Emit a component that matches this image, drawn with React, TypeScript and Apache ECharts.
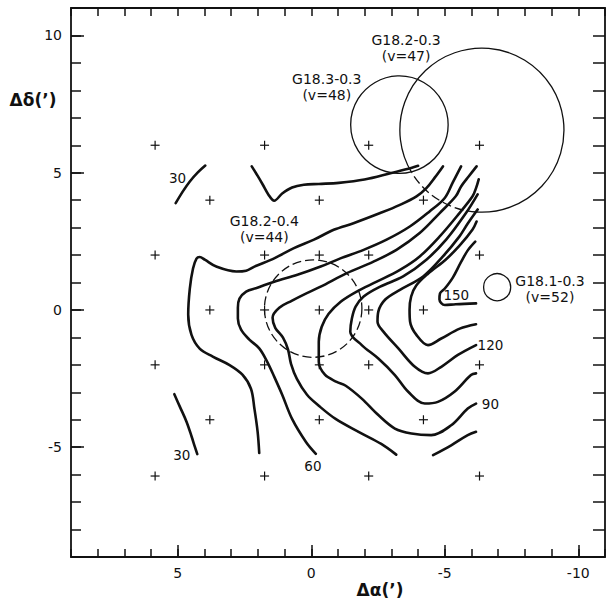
import React, { useEffect, useRef } from 'react';
import * as echarts from 'echarts';

// Offsets in arcminutes: Δα (x, increasing to the left) and Δδ (y)
// Contour polylines, labelled by level
const contour30a = [[5.08, 3.89], [4.81, 4.32], [4.55, 4.68], [4.25, 5.01], [3.97, 5.26]];
const contour30b = [[5.13, -3.07], [4.92, -3.53], [4.67, -4.08], [4.48, -4.62], [4.36, -4.99], [4.27, -5.25]];
const contour30c = [
  [2.23, 5.23], [2.02, 4.9], [1.82, 4.57], [1.61, 4.21], [1.39, 3.98], [1.09, 4.24], [0.72, 4.46],
  [0.28, 4.56], [-0.28, 4.59], [-1.03, 4.63], [-1.99, 4.75], [-3.0, 4.99], [-3.74, 5.17], [-4.0, 5.25],
];
const contour45 = [
  [-4.93, 5.23], [-4.63, 4.83], [-4.31, 4.44], [-3.94, 4.14], [-3.32, 3.83], [-2.58, 3.53], [-1.58, 3.16],
  [-0.84, 2.92], [-0.1, 2.56], [0.65, 2.25], [1.39, 1.88], [2.13, 1.58], [2.44, 1.43], [2.81, 1.4],
  [3.56, 1.58], [3.99, 1.83], [4.18, 1.93], [4.3, 1.87], [4.43, 1.51], [4.55, 0.78], [4.61, -0.17],
  [4.49, -0.9], [4.18, -1.41], [3.69, -1.7], [3.06, -2.01], [2.58, -2.36], [2.26, -2.87], [2.13, -3.6],
  [2.01, -4.44], [1.95, -5.21],
];
const contour60 = [
  [-5.61, 5.23], [-5.3, 4.65], [-4.99, 4.07], [-4.43, 3.59], [-3.69, 3.04], [-2.82, 2.56], [-1.96, 2.19],
  [-1.09, 1.88], [-0.35, 1.58], [0.52, 1.28], [1.39, 1.03], [2.02, 0.81], [2.44, 0.67], [2.69, 0.41],
  [2.75, 0.08], [2.75, -0.31], [2.63, -0.72], [2.32, -1.08], [1.95, -1.4], [1.65, -1.89], [1.39, -2.43],
  [1.09, -3.09], [0.72, -3.97], [0.2, -4.81], [-0.17, -5.24],
];
const contour75 = [
  [-6.19, 5.23], [-5.9, 4.87], [-5.61, 4.5], [-5.41, 4.14], [-4.81, 3.53], [-4.06, 2.8], [-3.19, 2.19],
  [-2.33, 1.76], [-1.33, 1.34], [-0.35, 0.85], [0.28, 0.56], [0.72, 0.34], [1.2, 0.08], [1.45, -0.28],
  [1.35, -0.65], [1.06, -1.01], [0.87, -1.45], [0.76, -1.96], [0.54, -2.51], [0.16, -3.09], [-0.28, -3.49],
  [-0.91, -3.97], [-1.77, -4.44], [-2.62, -4.88], [-3.18, -5.27],
];
const contour75b = [[-4.56, -5.29], [-5.24, -4.93], [-5.86, -4.56], [-6.17, -4.44]];
const contour90 = [
  [-6.27, 4.76], [-6.17, 4.44], [-6.04, 4.14], [-5.55, 3.53], [-4.81, 2.68], [-4.06, 1.95], [-3.32, 1.46],
  [-2.45, 1.03], [-1.7, 0.67], [-1.1, 0.3], [-0.65, -0.14], [-0.39, -0.61], [-0.28, -1.16], [-0.28, -1.89],
  [-0.51, -2.36], [-0.95, -2.62], [-1.29, -2.76], [-1.89, -3.23], [-2.51, -3.83], [-3.13, -4.32],
  [-3.75, -4.5], [-4.49, -4.56], [-5.24, -4.2], [-5.86, -3.59], [-6.17, -3.41],
];
const contour105 = [
  [-6.23, 4.21], [-5.78, 3.51], [-5.05, 2.56], [-4.31, 1.83], [-3.44, 1.22], [-2.58, 0.85], [-1.96, 0.49],
  [-1.66, 0.12], [-1.52, -0.31], [-1.46, -0.79], [-1.89, -1.28], [-2.51, -1.77], [-3.13, -2.37],
  [-3.63, -2.98], [-4.25, -3.41], [-4.74, -3.35], [-5.36, -2.98], [-5.98, -2.37], [-6.17, -2.31],
];
const contour120 = [
  [-6.23, 3.66], [-5.86, 3.15], [-5.55, 2.68], [-4.93, 1.95], [-4.19, 1.22], [-3.32, 0.73], [-2.77, 0.38],
  [-2.51, -0.06], [-2.48, -0.43], [-2.7, -0.79], [-3.26, -1.4], [-3.88, -2.07], [-4.37, -2.31],
  [-4.87, -2.07], [-5.49, -1.64], [-6.17, -1.28],
];
const contour135 = [
  [-6.19, 3.22], [-6.04, 2.93], [-5.56, 2.35], [-5.04, 1.84], [-4.37, 1.32], [-3.93, 0.89], [-3.74, 0.49],
  [-3.68, 0.01], [-3.7, -0.43], [-3.93, -0.9], [-4.37, -1.28], [-4.85, -1.05], [-5.56, -0.68], [-6.17, -0.52],
];
const contour150 = [
  [-6.14, 2.49], [-5.86, 2.17], [-5.6, 1.73], [-5.3, 1.18], [-5.0, 0.78], [-4.82, 0.6], [-4.8, 0.38],
  [-5.0, 0.18], [-5.41, 0.21], [-6.17, 0.24],
];

const contours = [
  contour30a, contour30b, contour30c, contour45, contour60, contour75, contour75b,
  contour90, contour105, contour120, contour135, contour150,
];

// Observed positions
const crosses = [
  [5.85, 6], [1.75, 6], [-2.15, 6], [-6.3, 6],
  [3.8, 4], [-0.3, 4], [-4.2, 4],
  [5.85, 2], [1.75, 2], [-0.3, 2], [-2.15, 2], [-6.3, 2],
  [3.8, 0], [1.75, 0], [-0.3, 0], [-2.15, 0], [-4.2, 0],
  [5.85, -2], [1.75, -2], [-0.3, -2], [-2.15, -2], [-6.3, -2],
  [3.8, -4], [-0.3, -4], [-4.2, -4],
  [5.85, -6.05], [1.75, -6.05], [-2.15, -6.05], [-6.3, -6.05],
];

// Sources: centre, radius (arcmin), dashed part (degrees, clockwise from +x on screen)
const sourceNames = ['G18.3-0.3', 'G18.2-0.3', 'G18.2-0.4', 'G18.1-0.3'];
const sourceX = [-3.3, -6.39, -0.07, -6.96];
const sourceY = [6.75, 6.55, 0.05, 0.83];
const sourceR = [1.8, 3.03, 1.8, 0.5];
const sourceDash: (null | 'all' | number[])[] = [null, [94, 149], 'all', null];

// Source annotations
const sourceLabels = [
  { text: 'G18.2-0.3\n(v=47)', x: -3.55, y: 9.54 },
  { text: 'G18.3-0.3\n(v=48)', x: -0.58, y: 8.12 },
  { text: 'G18.2-0.4\n(v=44)', x: 1.76, y: 2.94 },
  { text: 'G18.1-0.3\n(v=52)', x: -8.94, y: 0.75 },
];

// Contour level annotations
const levelLabels = [
  { text: '30', x: 5.01, y: 4.8 },
  { text: '30', x: 4.85, y: -5.3 },
  { text: '60', x: -0.06, y: -5.68 },
  { text: '90', x: -6.71, y: -3.44 },
  { text: '120', x: -6.71, y: -1.28 },
  { text: '150', x: -5.43, y: 0.54 },
];

const xMajor = [-10, -5, 0, 5];
const yMajor = [-5, 0, 5, 10];

const INK = '#111';
const FONT = '"DejaVu Sans", "Liberation Sans", sans-serif';

export default function App() {
  const ref = useRef<HTMLDivElement>(null);

  useEffect(() => {
    if (!ref.current) return;
    const chart = echarts.init(ref.current, null, { renderer: 'svg' });

    const axisLine = { show: true, onZero: false, lineStyle: { color: INK, width: 1.8 } };
    const noLine = { show: false, onZero: false };
    const tickStyle = { color: INK, width: 1.5 };

    const xBase = { type: 'value', min: -11, max: 9, inverse: true, splitLine: { show: false } };
    const yBase = { type: 'value', min: -9, max: 11, splitLine: { show: false } };

    const option: any = {
      animation: false,
      grid: { left: 71, right: 1, top: 8, bottom: 45 },
      xAxis: [
        {
          ...xBase, position: 'bottom', interval: 1, axisLine,
          axisTick: { show: true, inside: true, length: 8, lineStyle: tickStyle },
          axisLabel: {
            formatter: (v: number) => (v % 5 === 0 ? String(v) : ''),
            color: INK, fontSize: 14, fontFamily: FONT, margin: 9,
          },
        },
        {
          ...xBase, position: 'bottom', axisLine: noLine,
          axisTick: { show: true, inside: true, length: 12, customValues: xMajor, lineStyle: tickStyle },
          axisLabel: { show: false },
        },
        {
          ...xBase, position: 'top', interval: 1, axisLine,
          axisTick: { show: true, inside: true, length: 8, lineStyle: tickStyle },
          axisLabel: { show: false },
        },
      ],
      yAxis: [
        {
          ...yBase, position: 'left', interval: 1, axisLine,
          axisTick: { show: true, inside: true, length: 10, lineStyle: tickStyle },
          axisLabel: {
            formatter: (v: number) => (v % 5 === 0 ? String(v) : ''),
            color: INK, fontSize: 14, fontFamily: FONT, margin: 9,
          },
        },
        {
          ...yBase, position: 'left', axisLine: noLine,
          axisTick: { show: true, inside: true, length: 13, customValues: yMajor, lineStyle: tickStyle },
          axisLabel: { show: false },
        },
        {
          ...yBase, position: 'right', interval: 1, axisLine,
          axisTick: { show: true, inside: true, length: 12, lineStyle: tickStyle },
          axisLabel: { show: false },
        },
      ],
      graphic: [
        {
          type: 'text', x: 33, y: 100,
          style: { text: 'Δδ(’)', fill: INK, fontSize: 17, fontWeight: 'bold', fontFamily: FONT, align: 'center', verticalAlign: 'middle' },
        },
        {
          type: 'text', x: 380, y: 590,
          style: { text: 'Δα(’)', fill: INK, fontSize: 17, fontWeight: 'bold', fontFamily: FONT, align: 'center', verticalAlign: 'middle' },
        },
      ],
      series: [
        // source beams
        {
          type: 'custom', silent: true, z: 2, clip: false,
          data: sourceX.map((x, i) => [x, sourceY[i], sourceR[i]]),
          renderItem: (params: any, api: any) => {
            const i = params.dataIndex;
            const c = api.coord([api.value(0), api.value(1)]);
            const s = api.size([api.value(2), api.value(2)]);
            const r = (s[0] + s[1]) / 2;
            const solid = { fill: 'none', stroke: INK, lineWidth: 1.3 };
            const dashed = { fill: 'none', stroke: INK, lineWidth: 1.3, lineDash: [9, 4] };
            const dash = sourceDash[i];
            if (dash === 'all') {
              return { type: 'circle', shape: { cx: c[0], cy: c[1], r }, style: dashed };
            }
            if (Array.isArray(dash)) {
              const a0 = (dash[0] * Math.PI) / 180;
              const a1 = (dash[1] * Math.PI) / 180;
              return {
                type: 'group',
                children: [
                  { type: 'arc', shape: { cx: c[0], cy: c[1], r, startAngle: a0, endAngle: a1, clockwise: true }, style: dashed },
                  { type: 'arc', shape: { cx: c[0], cy: c[1], r, startAngle: a1, endAngle: a0 + Math.PI * 2, clockwise: true }, style: solid },
                ],
              };
            }
            return { type: 'circle', shape: { cx: c[0], cy: c[1], r }, style: solid };
          },
        },
        // observed positions
        {
          type: 'custom', silent: true, z: 2,
          data: crosses,
          renderItem: (_params: any, api: any) => {
            const p = api.coord([api.value(0), api.value(1)]);
            const h = 4.5;
            const st = { stroke: INK, lineWidth: 1.2 };
            return {
              type: 'group',
              children: [
                { type: 'line', shape: { x1: p[0] - h, y1: p[1], x2: p[0] + h, y2: p[1] }, style: st },
                { type: 'line', shape: { x1: p[0], y1: p[1] - h, x2: p[0], y2: p[1] + h }, style: st },
              ],
            };
          },
        },
        // contours
        ...contours.map((data) => ({
          type: 'line', data, smooth: 0.35, showSymbol: false, silent: true, z: 3,
          lineStyle: { color: INK, width: 2.6, cap: 'round', join: 'round' },
        })),
        // text annotations
        {
          type: 'custom', silent: true, z: 4,
          data: [...sourceLabels, ...levelLabels].map((t) => [t.x, t.y]),
          renderItem: (params: any, api: any) => {
            const all = [...sourceLabels, ...levelLabels];
            const t = all[params.dataIndex];
            const p = api.coord([api.value(0), api.value(1)]);
            const isSource = params.dataIndex < sourceLabels.length;
            return {
              type: 'text', x: p[0], y: p[1],
              style: {
                text: t.text, fill: INK, fontFamily: FONT,
                fontSize: isSource ? 14 : 13.5, lineHeight: 16,
                align: 'center', verticalAlign: 'middle',
              },
            };
          },
        },
      ],
    };

    chart.setOption(option);
    return () => chart.dispose();
  }, []);

  return (
    <div
      ref={ref}
      style={{ position: 'fixed', left: 0, top: 0, width: 608, height: 602, background: '#fff' }}
    />
  );
}
